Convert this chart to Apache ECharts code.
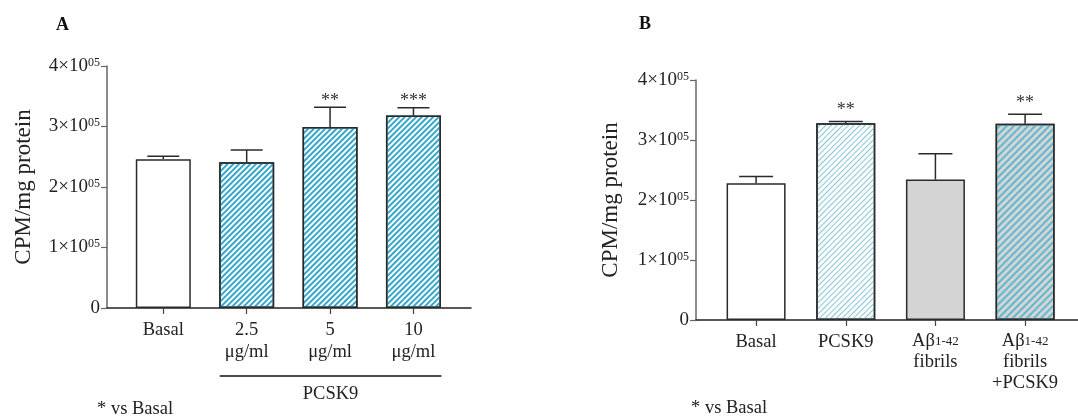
<!DOCTYPE html>
<html>
<head>
<meta charset="utf-8">
<script src="https://cdn.jsdelivr.net/npm/echarts@6/dist/echarts.min.js"></script>
<style>
  html, body { margin: 0; padding: 0; background: #fff; }
  #chart { width: 1078px; height: 419px; }
</style>
</head>
<body>
<div id="chart"></div>
<script>
// panel A: PCSK9 dose
var catsA = ['Basal', '2.5\nμg/ml', '5\nμg/ml', '10\nμg/ml'];
var meanA = [246000, 241000, 299000, 318000];
var errA = [5000, 20000, 33000, 13000];
var starsA = ['', '', '**', '***'];

// panel B: PCSK9 / Abeta fibrils
var catsB = ['Basal', 'PCSK9', '{n|Aβ}{s|1-42}\n{n|fibrils}', '{n|Aβ}{s|1-42}\n{n|fibrils}\n{n|+PCSK9}'];
var meanB = [228000, 328000, 234000, 327000];
var errB = [11000, 3000, 43000, 16000];
var starsB = ['', '**', '', '**'];

var FONT = 'Liberation Serif';

var hatchA = { symbol: 'rect', symbolSize: 1, dashArrayX: [[1, 0]], dashArrayY: [2, 2], rotation: -Math.PI / 4, color: '#35a8c9' };
var hatchB = { symbol: 'rect', symbolSize: 1, dashArrayX: [[1, 0]], dashArrayY: [1, 3], rotation: -Math.PI / 4, color: '#86c6d8' };
var hatchB2 = { symbol: 'rect', symbolSize: 1, dashArrayX: [[1, 0]], dashArrayY: [1.5, 2.5], rotation: -Math.PI / 4, color: '#5fb8d0' };

var stylesA = [
  { color: '#fff' },
  { color: '#fff', decal: hatchA },
  { color: '#fff', decal: hatchA },
  { color: '#fff', decal: hatchA }
];
var stylesB = [
  { color: '#fff' },
  { color: '#fff', decal: hatchB },
  { color: '#d4d4d4' },
  { color: '#d4d4d4', decal: hatchB2 }
];

function yLabel(v) {
  if (v === 0) return '{b|0}';
  return '{b|' + (v / 100000) + '×10}{s|05}';
}

function barData(means, styles) {
  return means.map(function (v, i) {
    var st = Object.assign({ borderColor: '#2a2a2a', borderWidth: 1.5 }, styles[i]);
    return { value: [i, v], itemStyle: st };
  });
}

function errData(means, errs) {
  return means.map(function (v, i) { return [i, v, v + errs[i]]; });
}

function errRender(stars, capHalf, starGap) {
  return function (params, api) {
    var x = api.value(0);
    var lo = api.coord([x, api.value(1)]);
    var hi = api.coord([x, api.value(2)]);
    var st = { stroke: '#2a2a2a', lineWidth: 1.5 };
    return {
      type: 'group',
      children: [
        { type: 'line', shape: { x1: lo[0], y1: lo[1], x2: hi[0], y2: hi[1] }, style: st },
        { type: 'line', shape: { x1: hi[0] - capHalf, y1: hi[1], x2: hi[0] + capHalf, y2: hi[1] }, style: st },
        { type: 'text', x: hi[0], y: hi[1] - starGap, style: {
          text: stars[params.dataIndex], fill: '#333', font: '18px "' + FONT + '"',
          align: 'center', verticalAlign: 'middle' } }
      ]
    };
  };
}

function xAxisFor(grid, min, max, cats) {
  return {
    type: 'value', gridIndex: grid, min: min, max: max,
    axisLine: { show: true, onZero: false, lineStyle: { color: '#222', width: 1.5 } },
    axisTick: { show: true, length: 6, customValues: [0, 1, 2, 3], lineStyle: { color: '#444', width: 1.2 } },
    axisLabel: {
      customValues: [0, 1, 2, 3], margin: 11, color: '#222',
      fontFamily: FONT, fontSize: 18.5, lineHeight: 22,
      formatter: function (v) { return cats[Math.round(v)]; },
      rich: {
        n: { fontFamily: FONT, fontSize: 18.5, lineHeight: 21, color: '#222' },
        s: { fontFamily: FONT, fontSize: 13, lineHeight: 21, color: '#222' }
      }
    },
    splitLine: { show: false }
  };
}

function yAxisFor(grid, gap) {
  return {
    type: 'value', gridIndex: grid, min: 0, max: 400000, interval: 100000,
    name: 'CPM/mg protein', nameLocation: 'middle', nameGap: gap,
    nameTextStyle: { fontFamily: FONT, fontSize: 23, color: '#222' },
    axisLine: { show: true, onZero: false, lineStyle: { color: '#666', width: 1.5 } },
    axisTick: { show: true, length: 6, lineStyle: { color: '#666', width: 1.2 } },
    axisLabel: {
      margin: 7, formatter: yLabel,
      rich: {
        b: { fontFamily: FONT, fontSize: 19, lineHeight: 19, color: '#222' },
        s: { fontFamily: FONT, fontSize: 12, lineHeight: 11, color: '#222', verticalAlign: 'top' }
      }
    },
    splitLine: { show: false }
  };
}

var chart = echarts.init(document.getElementById('chart'));

chart.setOption({
  backgroundColor: '#fff',
  animation: false,
  grid: [
    { left: 107, top: 66, width: 364, height: 242 },
    { left: 696, top: 80, width: 382, height: 240 }
  ],
  xAxis: [
    xAxisFor(0, -0.675, 3.69, catsA),
    xAxisFor(1, -0.67, 3.59, catsB)
  ],
  yAxis: [
    yAxisFor(0, 72),
    yAxisFor(1, 74)
  ],
  series: [
    { type: 'bar', xAxisIndex: 0, yAxisIndex: 0, barWidth: 55, data: barData(meanA, stylesA), z: 2 },
    { type: 'custom', xAxisIndex: 0, yAxisIndex: 0, renderItem: errRender(starsA, 16, 6), data: errData(meanA, errA), z: 3 },
    { type: 'bar', xAxisIndex: 1, yAxisIndex: 1, barWidth: 59, data: barData(meanB, stylesB), z: 2 },
    { type: 'custom', xAxisIndex: 1, yAxisIndex: 1, renderItem: errRender(starsB, 17, 11), data: errData(meanB, errB), z: 3 }
  ]
});

// bracket under the PCSK9 doses in panel A
var bx1 = chart.convertToPixel({ xAxisIndex: 0 }, 1) - 27;
var bx2 = chart.convertToPixel({ xAxisIndex: 0 }, 3) + 28;
var by = chart.convertToPixel({ yAxisIndex: 0 }, 0) + 68;

chart.setOption({
  graphic: [
    { type: 'text', left: 56, top: 16, style: { text: 'A', font: 'bold 18px "' + FONT + '"', fill: '#111' } },
    { type: 'text', left: 639, top: 15, style: { text: 'B', font: 'bold 18px "' + FONT + '"', fill: '#111' } },
    { type: 'line', shape: { x1: bx1, y1: by, x2: bx2, y2: by }, style: { stroke: '#111', lineWidth: 1.5 } },
    { type: 'text', x: (bx1 + bx2) / 2, y: by + 18, style: { text: 'PCSK9', font: '18.5px "' + FONT + '"', fill: '#222', align: 'center', verticalAlign: 'middle' } },
    { type: 'text', x: 97, y: 409, style: { text: '* vs Basal', font: '18.5px "' + FONT + '"', fill: '#222', verticalAlign: 'middle' } },
    { type: 'text', x: 691, y: 408, style: { text: '* vs Basal', font: '18.5px "' + FONT + '"', fill: '#222', verticalAlign: 'middle' } }
  ]
});
</script>
</body>
</html>
